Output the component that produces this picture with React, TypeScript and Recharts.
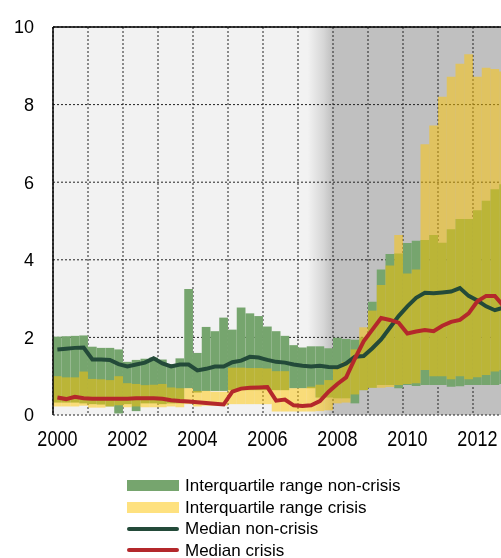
import React from "react";
import {
  ComposedChart,
  Bar,
  Line,
  XAxis,
  YAxis,
  CartesianGrid,
  ReferenceLine,
  Legend,
} from "recharts";

// ---------- data ----------
const quarters = [
  "2000Q1", "2000Q2", "2000Q3", "2000Q4",
  "2001Q1", "2001Q2", "2001Q3", "2001Q4",
  "2002Q1", "2002Q2", "2002Q3", "2002Q4",
  "2003Q1", "2003Q2", "2003Q3", "2003Q4",
  "2004Q1", "2004Q2", "2004Q3", "2004Q4",
  "2005Q1", "2005Q2", "2005Q3", "2005Q4",
  "2006Q1", "2006Q2", "2006Q3", "2006Q4",
  "2007Q1", "2007Q2", "2007Q3", "2007Q4",
  "2008Q1", "2008Q2", "2008Q3", "2008Q4",
  "2009Q1", "2009Q2", "2009Q3", "2009Q4",
  "2010Q1", "2010Q2", "2010Q3", "2010Q4",
  "2011Q1", "2011Q2", "2011Q3", "2011Q4",
  "2012Q1", "2012Q2", "2012Q3", "2012Q4",
];

const nonCrisisLow = [
  0.32, 0.32, 0.32, 0.30,
  0.28, 0.27, 0.22, 0.04,
  0.28, 0.10, 0.30, 0.30,
  0.28, 0.30, 0.30, 0.69,
  0.58, 0.62, 0.62, 0.62,
  0.64, 0.64, 0.64, 0.64,
  0.64, 0.64, 0.64, 0.69,
  0.69, 0.69, 0.45, 0.45,
  0.43, 0.43, 0.30, 0.64,
  0.70, 0.77, 0.77, 0.69,
  0.77, 0.75, 0.77, 0.77,
  0.77, 0.73, 0.74, 0.77,
  0.77, 0.77, 0.77, 0.80,
];

const nonCrisisHigh = [
  2.02, 2.03, 2.04, 2.05,
  1.76, 1.73, 1.73, 1.69,
  1.37, 1.42, 1.45, 1.48,
  1.43, 1.31, 1.46, 3.25,
  1.60, 2.27, 2.16, 2.51,
  2.20, 2.77, 2.62, 2.55,
  2.28, 2.16, 2.04, 1.80,
  1.74, 1.77, 1.77, 1.72,
  1.99, 1.96, 1.94, 2.00,
  2.92, 3.75, 4.15, 4.16,
  4.43, 4.49, 4.51, 4.64,
  4.44, 4.79, 5.05, 5.05,
  5.28, 5.52, 5.82, 5.95,
];

const crisisLow = [
  0.22, 0.22, 0.22, 0.24,
  0.19, 0.19, 0.22, 0.25,
  0.20, 0.22, 0.20, 0.20,
  0.20, 0.22, 0.20, 0.28,
  0.22, 0.24, 0.24, 0.24,
  0.28, 0.28, 0.28, 0.28,
  0.28, 0.09, 0.09, 0.09,
  0.09, 0.09, 0.10, 0.12,
  0.30, 0.32, 0.53, 0.64,
  0.70, 0.70, 0.72, 0.77,
  0.80, 0.82, 1.16, 1.00,
  1.00, 0.92, 1.00, 0.92,
  0.97, 1.03, 1.12, 1.16,
];

const crisisHigh = [
  1.00, 0.97, 0.97, 1.12,
  0.93, 0.92, 0.90, 1.00,
  0.82, 0.80, 0.77, 0.78,
  0.80, 0.71, 0.69, 0.69,
  0.62, 0.62, 0.60, 0.60,
  1.22, 1.22, 1.21, 1.21,
  1.20, 1.13, 1.13, 0.69,
  0.69, 0.73, 0.78, 0.90,
  1.25, 1.37, 1.69, 2.26,
  2.69, 3.35, 3.85, 4.64,
  3.65, 3.75, 6.98, 7.46,
  8.20, 8.72, 9.05, 9.30,
  8.72, 8.95, 8.92, 8.85,
];

const medianNonCrisis = [
  1.69, 1.71, 1.73, 1.74,
  1.43, 1.43, 1.42, 1.31,
  1.25, 1.30, 1.35, 1.46,
  1.33, 1.25, 1.30, 1.30,
  1.15, 1.19, 1.25, 1.25,
  1.36, 1.40, 1.50, 1.48,
  1.42, 1.37, 1.35, 1.30,
  1.27, 1.25, 1.27, 1.24,
  1.23, 1.33, 1.50, 1.52,
  1.72, 1.95, 2.25, 2.55,
  2.80, 3.02, 3.15, 3.14,
  3.16, 3.18, 3.27, 3.07,
  2.95, 2.80, 2.70, 2.77,
];

const medianCrisis = [
  0.45, 0.41, 0.47, 0.43,
  0.42, 0.42, 0.42, 0.42,
  0.42, 0.43, 0.43, 0.43,
  0.42, 0.38, 0.36, 0.35,
  0.33, 0.31, 0.29, 0.27,
  0.60, 0.68, 0.70, 0.71,
  0.72, 0.37, 0.40, 0.25,
  0.23, 0.25, 0.36, 0.60,
  0.80, 0.97, 1.45, 1.90,
  2.20, 2.50, 2.45, 2.38,
  2.10, 2.15, 2.19, 2.16,
  2.30, 2.40, 2.45, 2.62,
  2.93, 3.07, 3.07, 2.80,
];

const yearBoundaries = [2000, 2001, 2002, 2003, 2004, 2005, 2006, 2007, 2008, 2009, 2010, 2011, 2012, 2013];
const yearLabels = ["2000", "2002", "2004", "2006", "2008", "2010", "2012"];
const yTicks = [0, 2, 4, 6, 8, 10];

const seriesNames = {
  nonCrisisRange: "Interquartile range non-crisis",
  crisisRange: "Interquartile range crisis",
  medianNonCrisis: "Median non-crisis",
  medianCrisis: "Median crisis",
};

// ---------- styles ----------
const GREEN = "#76a56e";
const YELLOW = "rgb(255,198,0)";
const YELLOW_LEGEND = "#fee17f";
const DARK = "#234a39";
const RED = "#b4282b";
const FONT = "'Liberation Sans', Arial, sans-serif";

// table built from the arrays above
const quarterPos = (q: string) => {
  const yr = Number(q.slice(0, 4));
  const qn = Number(q.slice(5));
  return yr + (qn - 1) / 4 + 0.125;
};

const data = quarters.map((q, i) => ({
  q,
  x: quarterPos(q),
  nonCrisis: [nonCrisisLow[i], nonCrisisHigh[i]],
  crisis: [crisisLow[i], crisisHigh[i]],
  medN: medianNonCrisis[i],
  medC: medianCrisis[i],
}));

const labelTicks = yearLabels.map((y) => quarterPos(y + "Q1"));

const legendItems = [
  { name: seriesNames.nonCrisisRange, kind: "rect", color: GREEN },
  { name: seriesNames.crisisRange, kind: "rect", color: YELLOW_LEGEND },
  { name: seriesNames.medianNonCrisis, kind: "line", color: DARK },
  { name: seriesNames.medianCrisis, kind: "line", color: RED },
];

const renderLegend = () => (
  <div style={{ fontFamily: FONT, fontSize: 17, color: "#000" }}>
    {legendItems.map((it) => (
      <div
        key={it.name}
        style={{ display: "flex", alignItems: "center", height: 21.5, lineHeight: "21.5px", whiteSpace: "nowrap" }}
      >
        <span style={{ width: 52, height: 21.5, display: "flex", alignItems: "center", marginRight: 6 }}>
          {it.kind === "rect" ? (
            <span style={{ display: "block", width: 52, height: 11, background: it.color }} />
          ) : (
            <span style={{ display: "block", width: 52, height: 4, background: it.color, borderRadius: 2 }} />
          )}
        </span>
        <span>{it.name}</span>
      </div>
    ))}
  </div>
);

const EmptyTick = () => <g />;

const YearTick = (props: any) => {
  const { x, y, payload } = props;
  return (
    <g transform={`translate(${x},${y})`}>
      <text
        transform="scale(1,1.25)"
        textAnchor="middle"
        dy="0.72em"
        fontSize={18}
        fontFamily={FONT}
        fill="#000"
      >
        {String(Math.floor(payload.value))}
      </text>
    </g>
  );
};

export default function App() {
  return (
    <div
      style={{
        position: "fixed",
        left: 8,
        top: 8,
        width: 493,
        height: 550,
        overflow: "hidden",
      }}
    >
      <ComposedChart
        width={520}
        height={550}
        data={data}
        margin={{ top: 19, right: 20, left: 0, bottom: 113 }}
        barCategoryGap={0}
        barGap={0}
      >
        <defs>
          <linearGradient id="bgShade" x1="0" y1="0" x2="1" y2="0">
            <stop offset="0" stopColor="#f2f2f2" />
            <stop offset="0.560" stopColor="#f2f2f2" />
            <stop offset="0.575" stopColor="#e6e6e6" />
            <stop offset="0.595" stopColor="#d6d6d6" />
            <stop offset="0.612" stopColor="#c2c2c2" />
            <stop offset="0.616" stopColor="#c0c0c0" />
            <stop offset="1" stopColor="#c0c0c0" />
          </linearGradient>
        </defs>
        <CartesianGrid
          fill="url(#bgShade)"
          stroke="#222"
          strokeDasharray="2 2"
          strokeWidth={1}
          fillOpacity={1}
        />
        <XAxis
          dataKey="x"
          type="number"
          domain={[2000, 2013]}
          ticks={yearBoundaries}
          tick={EmptyTick}
          interval={0}
          tickLine={false}
          axisLine={{ stroke: "#000", strokeWidth: 1.5 }}
          height={0}
          allowDataOverflow
        />
        <XAxis
          xAxisId="lbl"
          dataKey="x"
          type="number"
          domain={[2000, 2013]}
          ticks={labelTicks}
          tickLine={false}
          axisLine={false}
          tickMargin={9}
          tick={YearTick}
          height={30}
          interval={0}
          allowDataOverflow
        />
        <YAxis
          domain={[0, 10]}
          ticks={yTicks}
          tickLine={false}
          axisLine={{ stroke: "#000", strokeWidth: 1.5 }}
          tickMargin={13}
          tick={{ fontSize: 18, fontFamily: FONT, fill: "#000" }}
          width={45}
          interval={0}
          allowDataOverflow
        />
        <Bar
          dataKey="nonCrisis"
          name={seriesNames.nonCrisisRange}
          fill={GREEN}
          barSize={8.72}
          isAnimationActive={false}
        />
        <Bar
          dataKey="crisis"
          xAxisId="lbl"
          name={seriesNames.crisisRange}
          fill={YELLOW}
          fillOpacity={0.5}
          barSize={8.72}
          isAnimationActive={false}
        />
        <Line
          dataKey="medN"
          name={seriesNames.medianNonCrisis}
          type="linear"
          stroke={DARK}
          strokeWidth={4}
          dot={false}
          activeDot={false}
          isAnimationActive={false}
        />
        <Line
          dataKey="medC"
          name={seriesNames.medianCrisis}
          type="linear"
          stroke={RED}
          strokeWidth={4}
          dot={false}
          activeDot={false}
          isAnimationActive={false}
        />
        <ReferenceLine y={10} stroke="#000" strokeWidth={1.5} ifOverflow="visible" />
        <Legend
          layout="vertical"
          align="center"
          verticalAlign="middle"
          content={renderLegend}
          wrapperStyle={{ position: "absolute", left: 119, top: 467, width: 380, height: 86 }}
        />
      </ComposedChart>
    </div>
  );
}
